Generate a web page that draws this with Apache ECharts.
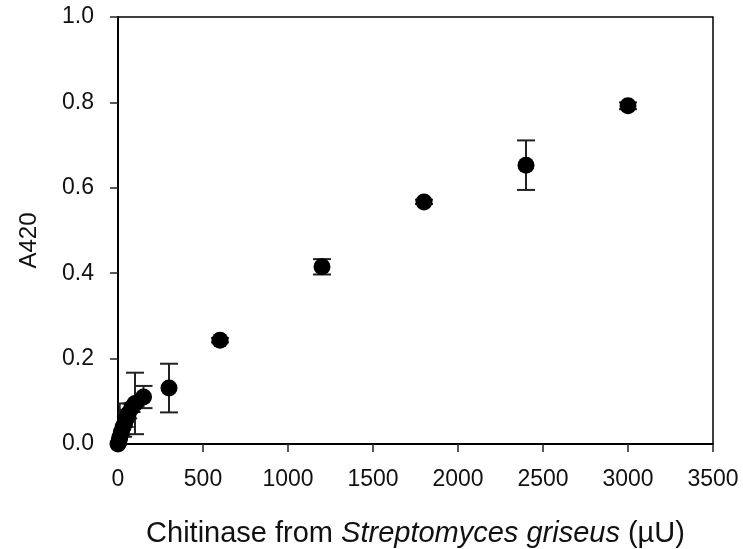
<!DOCTYPE html>
<html>
<head>
<meta charset="utf-8">
<script src="https://cdn.jsdelivr.net/npm/echarts@6/dist/echarts.min.js"></script>
<style>
  html, body { margin: 0; padding: 0; background: #fff; }
  #chart { width: 743px; height: 549px; }
</style>
</head>
<body>
<div id="chart"></div>
<script>
// chitinase activity (uU) vs absorbance at 420 nm
var enzyme = [0, 5, 10, 20, 30, 40, 50, 60, 80, 100, 150, 300, 600, 1200, 1800, 2400, 3000];
var a420 = [0.000, 0.005, 0.015, 0.028, 0.040, 0.050, 0.062, 0.070, 0.085, 0.095, 0.110, 0.131, 0.243, 0.415, 0.567, 0.653, 0.792];
// error bar half widths
var sd = [0, 0.005, 0.080, 0.010, 0.023, 0.010, 0.010, 0.010, 0.010, 0.072, 0.026, 0.057, 0.005, 0.018, 0.005, 0.058, 0.008];

var xTicks = [0, 500, 1000, 1500, 2000, 2500, 3000, 3500];
var yTicks = [0.0, 0.2, 0.4, 0.6, 0.8, 1.0];

var points = enzyme.map(function (x, i) { return [x, a420[i]]; });
var bars = enzyme.map(function (x, i) { return [x, a420[i] - sd[i], a420[i] + sd[i]]; });

var font = 'Liberation Sans, Arial, sans-serif';

var myChart = echarts.init(document.getElementById('chart'));
var chartOption = {
    animation: false,
    grid: {
        left: 118, right: 30, top: 17, bottom: 105,
        outerBoundsMode: 'none',
        show: true, borderColor: '#000', borderWidth: 1.5
    },
    xAxis: {
        type: 'value',
        min: xTicks[0], max: xTicks[xTicks.length - 1], interval: 500,
        splitLine: { show: false },
        axisLine: { lineStyle: { color: '#000', width: 2 } },
        axisTick: { length: 8, lineStyle: { color: '#222', width: 1.5 } },
        axisLabel: {
            margin: 24, color: '#111', fontSize: 23, fontFamily: font,
            formatter: function (v) { return String(v); }
        },
        name: '{n|Chitinase from }{i|Streptomyces griseus}{n| (µU)}',
        nameLocation: 'middle',
        nameGap: 75,
        nameTextStyle: {
            rich: {
                n: { fontSize: 29, fontFamily: font, color: '#111' },
                i: { fontSize: 29, fontFamily: font, color: '#111', fontStyle: 'italic' }
            }
        }
    },
    yAxis: {
        type: 'value',
        min: yTicks[0], max: yTicks[yTicks.length - 1], interval: 0.2,
        splitLine: { show: false },
        axisLine: { lineStyle: { color: '#000', width: 2 } },
        axisTick: { length: 8, lineStyle: { color: '#222', width: 1.5 } },
        axisLabel: {
            margin: 24, color: '#111', fontSize: 23, fontFamily: font,
            formatter: function (v) { return v.toFixed(1); }
        },
        name: 'A420',
        nameLocation: 'middle',
        nameGap: 77,
        nameTextStyle: { fontSize: 24, fontFamily: font, color: '#111', padding: [0, 20, 0, 0] }
    },
    series: [
        {
            type: 'custom',
            clip: true,
            data: bars,
            z: 3,
            renderItem: function (params, api) {
                var lo = api.coord([api.value(0), api.value(1)]);
                var hi = api.coord([api.value(0), api.value(2)]);
                var w = 9;
                var st = { stroke: '#222', lineWidth: 2 };
                return {
                    type: 'group',
                    children: [
                        { type: 'line', shape: { x1: lo[0], y1: lo[1], x2: hi[0], y2: hi[1] }, style: st },
                        { type: 'line', shape: { x1: lo[0] - w, y1: lo[1], x2: lo[0] + w, y2: lo[1] }, style: st },
                        { type: 'line', shape: { x1: hi[0] - w, y1: hi[1], x2: hi[0] + w, y2: hi[1] }, style: st }
                    ]
                };
            }
        },
        {
            type: 'scatter',
            data: points,
            symbol: 'circle',
            symbolSize: 17,
            clip: false,
            z: 4,
            itemStyle: { color: '#000', opacity: 1 }
        }
    ]
};
myChart.setOption(chartOption);
</script>
</body>
</html>
